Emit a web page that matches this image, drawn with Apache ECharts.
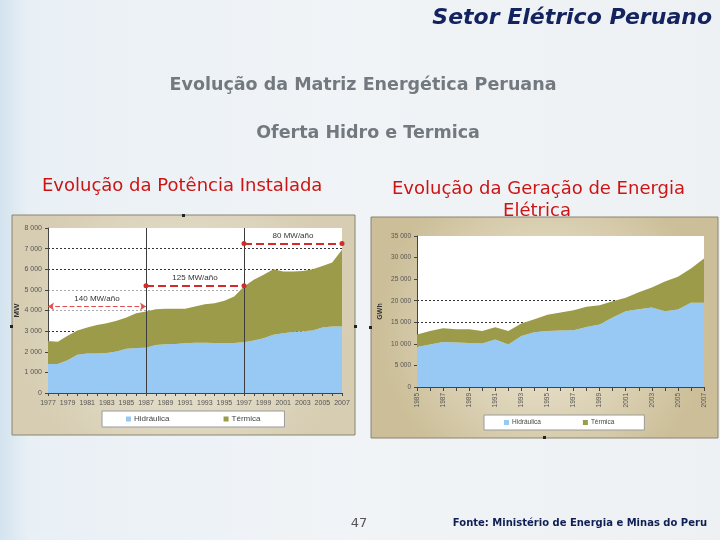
<!DOCTYPE html>
<html><head><meta charset="utf-8">
<script src="https://cdn.jsdelivr.net/npm/echarts@6/dist/echarts.min.js"></script>
<style>html,body{margin:0;padding:0;background:#eef2f5;} #c{width:720px;height:540px;}</style>
</head><body><div id="c"></div>
<script>
// ---- Data: Evolução da Potência Instalada (MW)
const anosPot = ['1977','1978','1979','1980','1981','1982','1983','1984','1985','1986','1987','1988','1989','1990','1991','1992','1993','1994','1995','1996','1997','1998','1999','2000','2001','2002','2003','2004','2005','2006','2007'];
const hidroPot = [1410,1410,1590,1850,1910,1910,1940,2010,2140,2180,2200,2330,2360,2380,2410,2440,2440,2430,2420,2430,2460,2540,2650,2820,2900,2960,2990,3030,3170,3220,3220];
const termPot  = [1110,1080,1190,1180,1260,1390,1440,1490,1520,1690,1750,1730,1720,1700,1670,1750,1860,1920,2050,2250,2700,2950,3080,3180,2990,2930,2930,2970,2990,3110,3720];
const taxasPot = ['140 MW/año','125 MW/año','80 MW/año'];
const nivelTaxas = [4200,5200,7250];
const marcosPot = ['1977','1987','1997','2007'];

// ---- Data: Evolução da Geração de Energia Elétrica (GWh)
const anosGer = ['1985','1986','1987','1988','1989','1990','1991','1992','1993','1994','1995','1996','1997','1998','1999','2000','2001','2002','2003','2004','2005','2006','2007'];
const hidroGer = [9290,9830,10450,10300,10200,10060,11000,9830,11840,12700,13000,13080,13160,13930,14470,16100,17570,18030,18420,17570,17960,19500,19500];
const termGer  = [2860,3170,3170,3090,3190,2940,2850,3170,2860,3010,3720,4180,4640,4650,4490,3790,3100,3950,4650,6890,7580,7980,10300];

const nomes = ['Hidráulica','Térmica'];
const corHidro = '#98c8f4';
const corTerm = '#9b9b4a';
const fmtMil = v => String(v).replace(/\B(?=(\d{3})+(?!\d))/g, ' ');
const F = '"Liberation Sans", Arial, sans-serif';

const chart = echarts.init(document.getElementById('c'), null, {renderer:'canvas'});

function arrowLine(i, sym, color, width) {
  return [
    {coord:[marcosPot[i], nivelTaxas[i]], symbol:sym, symbolSize:sym==='arrow'?6:5,
     lineStyle:{color:color, type:'dashed', width:width},
     label:{show:true, position:'insideMiddleTop', distance:4, formatter:taxasPot[i], color:'#333', fontSize:8, fontFamily:F}},
    {coord:[marcosPot[i+1], nivelTaxas[i]], symbol:sym, symbolSize:sym==='arrow'?6:5}
  ];
}

const option = {
  animation:false,
  textStyle:{fontFamily:F},
  graphic:[
    {type:'rect', z:-10, shape:{x:0,y:0,width:720,height:540},
     style:{fill:new echarts.graphic.LinearGradient(0,0,1,0,[{offset:0,color:'#d3e3ef'},{offset:0.04,color:'#e9f0f5'},{offset:0.5,color:'#f1f4f7'},{offset:1,color:'#eef1f4'}])}},
    {type:'text', z:-5, style:{x:712,y:18,text:'Setor Elétrico Peruano',align:'right',verticalAlign:'middle',font:'italic bold 22px "DejaVu Sans"',fill:'#13235f'}},
    {type:'text', z:-5, style:{x:363,y:85,text:'Evolução da Matriz Energética Peruana',align:'center',verticalAlign:'middle',font:'bold 17.5px "DejaVu Sans"',fill:'#727a80'}},
    {type:'text', z:-5, style:{x:368,y:133,text:'Oferta Hidro e Termica',align:'center',verticalAlign:'middle',font:'bold 17.5px "DejaVu Sans"',fill:'#727a80'}},
    {type:'text', z:-5, style:{x:42,y:186,text:'Evolução da Potência Instalada',align:'left',verticalAlign:'middle',font:'18px "DejaVu Sans"',fill:'#cc1414'}},
    {type:'text', z:-5, style:{x:392,y:189,text:'Evolução da Geração de Energia',align:'left',verticalAlign:'middle',font:'18px "DejaVu Sans"',fill:'#cc1414'}},
    {type:'text', z:-5, style:{x:537,y:211,text:'Elétrica',align:'center',verticalAlign:'middle',font:'18px "DejaVu Sans"',fill:'#cc1414'}},
    {type:'rect', z:-3, shape:{x:12,y:215,width:343,height:220},
     style:{fill:new echarts.graphic.RadialGradient(0.5,0.5,0.75,[{offset:0,color:'#ebe6d6'},{offset:1,color:'#d6cdb2'}]),stroke:'#8a8470',lineWidth:1}},
    {type:'rect', z:-3, shape:{x:371,y:217,width:347,height:221},
     style:{fill:new echarts.graphic.RadialGradient(0.5,0.5,0.75,[{offset:0,color:'#f0ead9'},{offset:1,color:'#cbbe98'}]),stroke:'#8a8470',lineWidth:1}},
    {type:'rect', z:-2, shape:{x:182,y:214,width:3,height:3}, style:{fill:'#222'}},
    {type:'rect', z:-2, shape:{x:10,y:325,width:3,height:3}, style:{fill:'#222'}},
    {type:'rect', z:-2, shape:{x:354,y:325,width:3,height:3}, style:{fill:'#222'}},
    {type:'rect', z:-2, shape:{x:369,y:326,width:3,height:3}, style:{fill:'#222'}},
    {type:'rect', z:-2, shape:{x:543,y:436,width:3,height:3}, style:{fill:'#222'}},
    {type:'text', z:-5, style:{x:359,y:524,text:'47',align:'center',verticalAlign:'middle',font:'13px "DejaVu Sans"',fill:'#555'}},
    {type:'text', z:-5, style:{x:707,y:523,text:'Fonte: Ministério de Energia e Minas do Peru',align:'right',verticalAlign:'middle',font:'bold 10px "DejaVu Sans"',fill:'#0f1f55'}}
  ],
  grid:[
    {left:48, top:228, width:294, height:165, show:true, backgroundColor:'#ffffff', borderWidth:0},
    {left:417, top:236, width:287, height:151, show:true, backgroundColor:'#ffffff', borderWidth:0}
  ],
  legend:[
    {left:102, top:411, data:nomes, backgroundColor:'#fff', borderColor:'#9a9a9a', borderWidth:1, borderRadius:0,
     padding:[4,24,4,24], itemGap:54, itemWidth:5, itemHeight:5, icon:'rect', textStyle:{fontSize:8, color:'#444', fontFamily:F, padding:[0,0,0,-2]}},
    {left:484, top:415, data:nomes, backgroundColor:'#fff', borderColor:'#9a9a9a', borderWidth:1, borderRadius:0,
     padding:[4,30,4,20], itemGap:42, itemWidth:5, itemHeight:5, icon:'rect', textStyle:{fontSize:6.5, color:'#444', fontFamily:F, padding:[0,0,0,-2]}}
  ],
  xAxis:[
    {type:'category', gridIndex:0, data:anosPot, boundaryGap:false,
     axisLine:{lineStyle:{color:'#444'}}, axisTick:{interval:0, length:3, lineStyle:{color:'#444'}},
     axisLabel:{interval:1, fontSize:7, color:'#555', margin:7}, splitLine:{show:false}},
    {type:'category', gridIndex:1, data:anosGer, boundaryGap:false,
     axisLine:{lineStyle:{color:'#444'}}, axisTick:{interval:0, length:4, lineStyle:{color:'#444'}},
     axisLabel:{interval:1, rotate:90, fontSize:6.5, color:'#555', margin:6}, splitLine:{show:false}}
  ],
  yAxis:[
    {type:'value', gridIndex:0, min:0, max:8000, interval:1000, name:'MW', nameLocation:'middle', nameGap:26, nameRotate:90,
     nameTextStyle:{fontSize:8, fontWeight:'bold', color:'#333'},
     axisLine:{show:true, lineStyle:{color:'#444'}}, axisTick:{show:true, length:3, lineStyle:{color:'#444'}},
     axisLabel:{fontSize:7, color:'#555', margin:6, formatter:fmtMil},
     splitLine:{show:true, lineStyle:{type:[2,2], width:1, color:['rgba(0,0,0,0)','rgba(0,0,0,0)','rgba(0,0,0,0)','#333','#aaa','#aaa','#333','#333','rgba(0,0,0,0)']}}},
    {type:'value', gridIndex:1, min:0, max:35000, interval:5000, name:'GWh', nameLocation:'middle', nameGap:33, nameRotate:90,
     nameTextStyle:{fontSize:7, fontWeight:'bold', color:'#333'},
     axisLine:{show:true, lineStyle:{color:'#444'}}, axisTick:{show:true, length:3, lineStyle:{color:'#444'}},
     axisLabel:{fontSize:6.5, color:'#555', margin:6, formatter:fmtMil},
     splitLine:{show:true, lineStyle:{type:[2,2], width:1, color:['rgba(0,0,0,0)','rgba(0,0,0,0)','rgba(0,0,0,0)','#333','#333','rgba(0,0,0,0)','rgba(0,0,0,0)','rgba(0,0,0,0)']}}}
  ],
  series:[
    {name:nomes[0], type:'line', xAxisIndex:0, yAxisIndex:0, stack:'pot', data:hidroPot, symbol:'none',
     lineStyle:{width:0}, itemStyle:{color:corHidro}, areaStyle:{color:corHidro, opacity:1}},
    {name:nomes[1], type:'line', xAxisIndex:0, yAxisIndex:0, stack:'pot', data:termPot, symbol:'none',
     lineStyle:{width:0}, itemStyle:{color:corTerm}, areaStyle:{color:corTerm, opacity:1},
     markLine:{silent:true, animation:false, symbol:'none', label:{show:false},
       data:[
         [{coord:[marcosPot[1],0], lineStyle:{color:'#3c3c3c', type:'solid', width:1}, label:{show:false}},{coord:[marcosPot[1],8000]}],
         [{coord:[marcosPot[2],0], lineStyle:{color:'#3c3c3c', type:'solid', width:1}, label:{show:false}},{coord:[marcosPot[2],8000]}],
         arrowLine(0,'arrow','#e05050',1.2),
         arrowLine(1,'circle','#d42a2a',2),
         arrowLine(2,'circle','#d42a2a',2)
       ]}},
    {name:nomes[0], type:'line', xAxisIndex:1, yAxisIndex:1, stack:'ger', data:hidroGer, symbol:'none',
     lineStyle:{width:0}, itemStyle:{color:corHidro}, areaStyle:{color:corHidro, opacity:1}},
    {name:nomes[1], type:'line', xAxisIndex:1, yAxisIndex:1, stack:'ger', data:termGer, symbol:'none',
     lineStyle:{width:0}, itemStyle:{color:corTerm}, areaStyle:{color:corTerm, opacity:1}}
  ]
};
chart.setOption(option);
</script>
</body></html>
